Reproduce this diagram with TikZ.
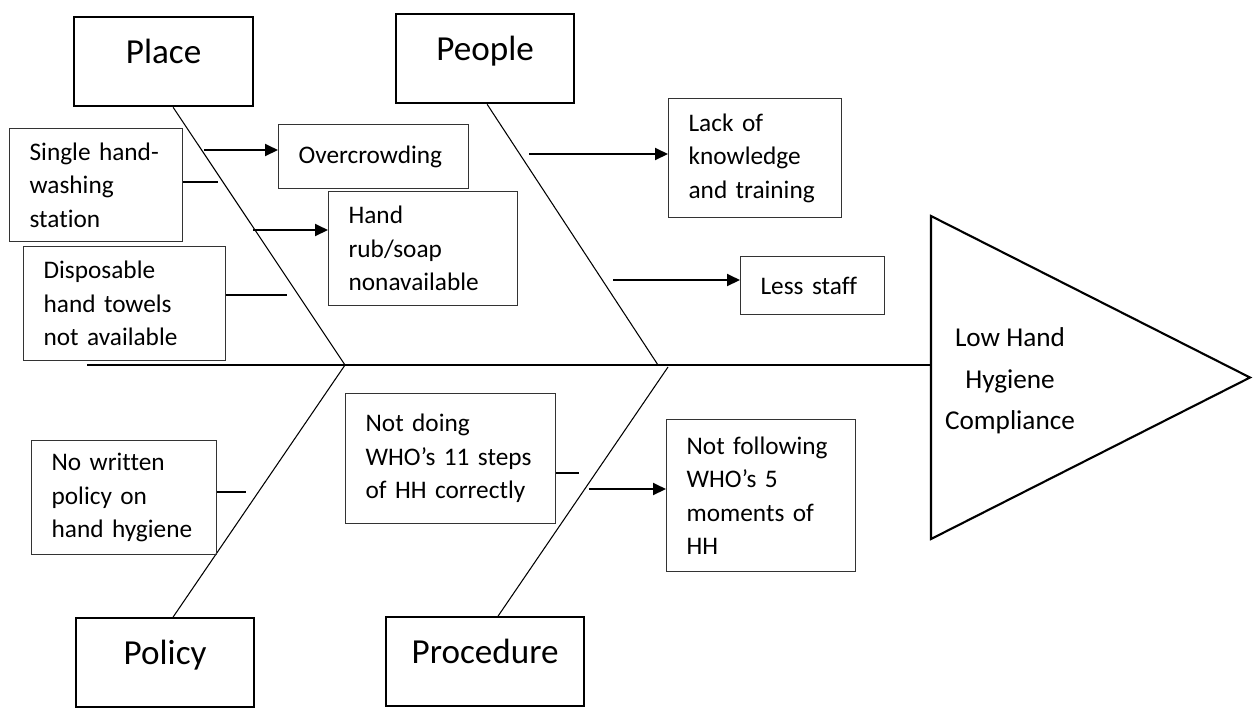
\documentclass[tikz,border=0pt]{standalone}
\usepackage{fontspec}
\setmainfont{Carlito}[Ligatures=NoCommon]
\usetikzlibrary{arrows.meta}
\usetikzlibrary{positioning}

\begin{document}
\begin{tikzpicture}[x=0.02cm, y=-0.02cm, >={Triangle[length=0.26cm, width=0.24cm]},
  category/.style={draw, line width=1.3pt, anchor=north west, inner xsep=0pt, inner ysep=0pt,
    text height=0.93cm, text depth=0.85cm, font=\fontsize{20}{24}\selectfont},
  cause/.style={draw=black!80, line width=0.7pt, anchor=north west, align=left,
    inner xsep=0.4cm, inner ysep=0pt, font=\fontsize{14.4}{19}\selectfont},
  bone/.style={line width=0.6pt},
  link/.style={line width=1.1pt}]
  \useasboundingbox (0,0) rectangle (1253,708);

  % main categories
  \node[category, minimum width=3.58cm] (place) at (73,16) {Place};
  \node[category, minimum width=3.56cm] (people) at (395,13) {People};
  \node[category, minimum width=3.56cm] (policy) at (75,617) {Policy};
  \node[category, minimum width=3.96cm] (proc) at (385,616) {Procedure};

  % head of the fish
  \coordinate (top) at (931,216);
  \coordinate (tip) at (1250,377.5);
  \coordinate (bottom) at (931,539);
  \draw[line width=1.2pt] (top) -- (tip) -- (bottom) -- cycle;
  \node[align=center, font=\fontsize{15.5}{23.5}\selectfont] (effect) at (1010,381)
    {Low Hand\\Hygiene\\Compliance};

  % spine and bones
  \coordinate (tail) at (87,365);
  \draw[link] (tail) -- (tail -| top);
  \coordinate (j1) at (345,365);
  \coordinate (j2) at (658,365);
  \coordinate (j3) at (668,367);
  \draw[bone] ([xshift=0.19cm]place.south) -- (j1) -- ([xshift=0.16cm]policy.north);
  \draw[bone] ([xshift=0.04cm]people.south) -- (j2);
  \draw[bone] (j3) -- ([xshift=0.26cm]proc.north);

  % causes
  \node[cause, text width=2.66cm, minimum height=2.26cm] (single) at (9,128) {Single hand-\\washing\\station};
  \node[cause, text width=3.0cm, minimum height=1.28cm] (crowd) at (278,124) {Overcrowding};
  \node[cause, text width=2.98cm, minimum height=2.28cm] (rub) at (328,191) {Hand\\rub/soap\\nonavailable};
  \node[cause, text width=3.24cm, minimum height=2.28cm] (towels) at (23,246) {Disposable\\hand towels\\not available};
  \node[cause, text width=2.66cm, minimum height=2.38cm] (lack) at (668,98) {Lack of\\knowledge\\and training};
  \node[cause, text width=2.08cm, minimum height=1.16cm] (staff) at (740,256) {Less staff};
  \node[cause, text width=2.9cm, minimum height=2.28cm] (written) at (31,440) {No written\\policy on\\hand hygiene};
  \node[cause, text width=3.4cm, minimum height=2.6cm] (steps) at (345,393) {Not doing\\WHO’s 11 steps\\of HH correctly};
  \node[cause, text width=2.98cm, minimum height=3.04cm] (moments) at (666,419) {Not following\\WHO’s 5\\moments of\\HH};

  % arrows into the causes
  \coordinate (a1) at (204,150);
  \coordinate (a2) at (253,230);
  \coordinate (a3) at (529,154);
  \coordinate (a4) at (613,280);
  \coordinate (a5) at (589,489);
  \path[->, link]
  (a1) edge (a1 -| crowd.west)
  (a2) edge (a2 -| rub.west)
  (a3) edge (a3 -| lack.west)
  (a4) edge (a4 -| staff.west)
  (a5) edge (a5 -| moments.west);

  % short ticks out of the causes
  \coordinate (t1) at (218,182);
  \coordinate (t2) at (287,295);
  \coordinate (t3) at (246,492);
  \coordinate (t4) at (579,473);
  \path[link]
  (single.east |- t1) edge (t1)
  (towels.east |- t2) edge (t2)
  (written.east |- t3) edge (t3)
  (steps.east |- t4) edge (t4);
\end{tikzpicture}
\end{document}
